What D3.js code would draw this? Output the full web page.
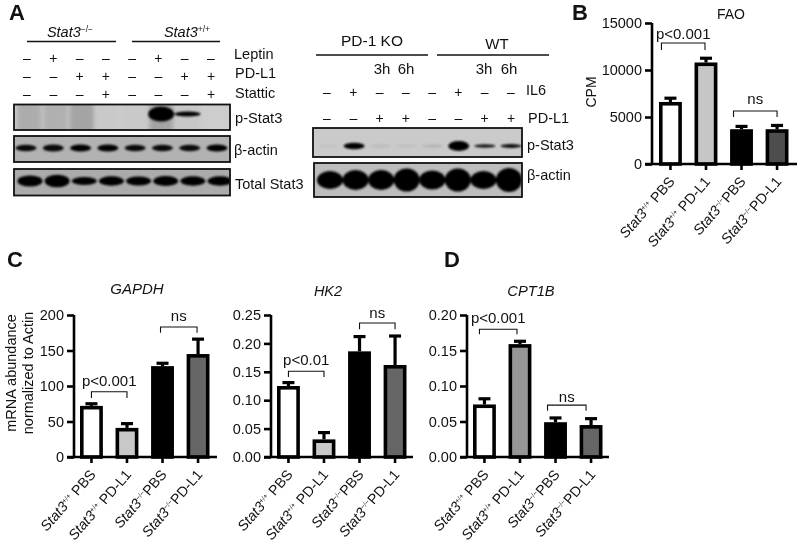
<!DOCTYPE html>
<html>
<head>
<meta charset="utf-8">
<script src="https://cdn.jsdelivr.net/npm/d3@7"></script>
<style>
  html, body { margin: 0; background: #fff; }
  svg { display: block; filter: blur(0.35px); }
  text { font-family: "Liberation Sans", Arial, sans-serif; fill: #111; }
</style>
</head>
<body>
<svg width="800" height="544"></svg>
<script>
const groups = [
  { gene: 'Stat3', sup: '+/+', tail: ' PBS' },
  { gene: 'Stat3', sup: '+/+', tail: ' PD-L1' },
  { gene: 'Stat3', sup: '\u2212/\u2212', tail: 'PBS' },
  { gene: 'Stat3', sup: '\u2212/\u2212', tail: 'PD-L1' },
];

const faoValues = [6600, 10800, 3700, 3700];
const faoErrors = [400, 450, 300, 400];
const faoTicks = [0, 5000, 10000, 15000];
const gapdhValues = [72, 41, 128, 145];
const gapdhErrors = [3, 6, 4, 21];
const gapdhTicks = [0, 50, 100, 150, 200];
const hk2Values = [0.125, 0.031, 0.186, 0.162];
const hk2Errors = [0.006, 0.012, 0.026, 0.051];
const hk2Ticks = [0, 0.05, 0.10, 0.15, 0.20, 0.25];
const cpt1bValues = [0.074, 0.159, 0.049, 0.045];
const cpt1bErrors = [0.008, 0.004, 0.006, 0.009];
const cpt1bTicks = [0, 0.05, 0.10, 0.15, 0.20];

const leptinSigns = ['-', '+', '-', '-', '-', '+', '-', '-'];
const pdl1Signs = ['-', '-', '+', '+', '-', '-', '+', '+'];
const stattic = ['-', '-', '-', '+', '-', '-', '-', '+'];
const il6Signs = ['-', '+', '-', '-', '-', '+', '-', '-'];
const pdl1Signs2 = ['-', '-', '+', '+', '-', '-', '+', '+'];

const leftSmear = [0.16, 0.14, 0.2, 0.02, 0.02, 0.2, 0.03, 0];
const leftPStat3 = [0, 0, 0, 0, 0, 1, 1, 0];
const leftPStat3Size = [0, 0, 0, 0, 0, 0.58, 0.2, 0];
const leftActin = [0.95, 0.95, 1, 1, 0.95, 0.95, 0.95, 1];
const leftActinSize = [0.55, 0.6, 0.6, 0.6, 0.55, 0.55, 0.55, 0.6];
const leftTotal = [1, 1, 1, 1, 1, 1, 1, 1];
const leftTotalSize = [0.8, 0.9, 0.58, 0.68, 0.65, 0.72, 0.68, 0.68];
const rightPStat3 = [0.03, 1, 0.07, 0.05, 0.1, 1, 0.9, 0.95];
const rightPStat3Size = [0.3, 0.55, 0.3, 0.3, 0.3, 0.85, 0.28, 0.32];
const rightActin = [1, 1, 1, 1, 1, 1, 1, 1];
const rightActinSize = [0.9, 1, 1, 1.15, 0.95, 1.15, 0.9, 1.2];

const svg = d3.select('svg');
const AXIS_WIDTH = 2.6;
const BAR_STROKE = 3.6;

function label(x, y, str, size, opts = {}) {
  return svg.append('text')
    .attr('x', x).attr('y', y)
    .attr('font-size', size)
    .attr('font-style', opts.italic ? 'italic' : null)
    .attr('font-weight', opts.bold ? 'bold' : null)
    .attr('text-anchor', opts.anchor || 'start')
    .text(str);
}

function drawBarPanel(p) {
  const g = svg.append('g');
  const x = d3.scaleBand().domain(d3.range(groups.length))
    .range([p.x0, p.x1]).paddingInner(0.356);
  const y = d3.scaleLinear().domain([0, p.max]).range([p.base, p.top]);
  const data = p.values.map((v, i) => ({ v, err: p.errors[i], i }));
  const mid = i => x(i) + x.bandwidth() / 2;

  // error bars go under the bars
  const errs = g.append('g').attr('stroke', '#000').attr('stroke-width', 3.2);
  errs.selectAll('.stem').data(data).enter().append('line')
    .attr('x1', d => mid(d.i)).attr('x2', d => mid(d.i))
    .attr('y1', d => y(d.v)).attr('y2', d => y(d.v + d.err));
  errs.selectAll('.cap').data(data).enter().append('line')
    .attr('x1', d => mid(d.i) - 6).attr('x2', d => mid(d.i) + 6)
    .attr('y1', d => y(d.v + d.err)).attr('y2', d => y(d.v + d.err));

  g.selectAll('rect').data(data).enter().append('rect')
    .attr('x', d => x(d.i) + BAR_STROKE / 2)
    .attr('width', x.bandwidth() - BAR_STROKE)
    .attr('y', d => y(d.v) + BAR_STROKE / 2)
    .attr('height', d => p.base - y(d.v) - BAR_STROKE / 2)
    .attr('fill', d => p.fills[d.i])
    .attr('stroke', '#000')
    .attr('stroke-width', BAR_STROKE);

  const yAxis = d3.axisLeft(y).tickValues(p.ticks).tickSize(7).tickPadding(3)
    .tickFormat(d3.format(p.format));
  const yG = g.append('g').attr('transform', `translate(${p.axisX},0)`).call(yAxis);
  yG.selectAll('text').attr('font-size', 14.5).attr('font-family', null);
  yG.selectAll('line, path').attr('stroke', '#000').attr('stroke-width', AXIS_WIDTH);
  yG.select('.domain').attr('d', `M0,${p.top}V${p.base}`);

  const xAxis = d3.axisBottom(x).tickSize(6).tickFormat('');
  const xG = g.append('g').attr('transform', `translate(0,${p.base})`).call(xAxis);
  xG.selectAll('line, path').attr('stroke', '#000').attr('stroke-width', AXIS_WIDTH);
  xG.select('.domain').attr('d', `M${p.axisX - 7},0H${p.axisEnd}`);

  groups.forEach((c, i) => {
    const t = g.append('text')
      .attr('transform', `translate(${mid(i) + 5},${p.base + 18}) rotate(-49)`)
      .attr('text-anchor', 'end')
      .attr('font-size', 14.2);
    t.append('tspan').attr('font-style', 'italic').text(c.gene);
    t.append('tspan').attr('dy', -5).attr('font-size', 7).text(c.sup);
    t.append('tspan').attr('dy', 5).text(c.tail);
  });

  p.brackets.forEach(b => {
    const x1 = mid(b.from) + (b.dx1 || 0), x2 = mid(b.to) + (b.dx2 || 0);
    g.append('path')
      .attr('d', `M${x1},${y(b.low)}V${y(b.high)}H${x2}V${y(b.low)}`)
      .attr('fill', 'none').attr('stroke', '#111').attr('stroke-width', 1.1);
    label((x1 + x2) / 2, y(b.labelAt), b.text, 15, { anchor: 'middle' });
  });

  label(p.titleX, p.titleY, p.title, p.titleSize, { anchor: 'middle', italic: p.italic });
}

drawBarPanel({
  title: 'FAO', titleX: 731, titleY: 19, titleSize: 14, italic: false,
  values: faoValues, errors: faoErrors, ticks: faoTicks, max: 15000, format: 'd',
  x0: 659, x1: 788.5, axisX: 652, axisEnd: 797, top: 23, base: 164,
  fills: ['#fff', '#c6c6c6', '#000', '#4d4d4d'],
  brackets: [
    { from: 0, to: 1, dx1: -9, dx2: -1, low: 12130, high: 12870, labelAt: 13300, text: 'p<0.001' },
    { from: 2, to: 3, dx1: -8, low: 5000, high: 5640, labelAt: 6350, text: 'ns' },
  ],
});
drawBarPanel({
  title: 'GAPDH', titleX: 137, titleY: 294, titleSize: 15, italic: true,
  values: gapdhValues, errors: gapdhErrors, ticks: gapdhTicks, max: 200, format: 'd',
  x0: 80, x1: 209.5, axisX: 74, axisEnd: 217, top: 315, base: 457,
  fills: ['#fff', '#c8c8c8', '#000', '#666'],
  brackets: [
    { from: 0, to: 1, low: 83, high: 92, labelAt: 100, text: 'p<0.001' },
    { from: 2, to: 3, dx1: -2, dx2: -1, low: 175, high: 183, labelAt: 191, text: 'ns' },
  ],
});
drawBarPanel({
  title: 'HK2', titleX: 328, titleY: 296, titleSize: 14.5, italic: true,
  values: hk2Values, errors: hk2Errors, ticks: hk2Ticks, max: 0.25, format: '.2f',
  x0: 277, x1: 406.5, axisX: 271, axisEnd: 413, top: 315, base: 457,
  fills: ['#fff', '#c8c8c8', '#000', '#666'],
  brackets: [
    { from: 0, to: 1, low: 0.141, high: 0.151, labelAt: 0.162, text: 'p<0.01' },
    { from: 2, to: 3, low: 0.225, high: 0.236, labelAt: 0.245, text: 'ns' },
  ],
});
drawBarPanel({
  title: 'CPT1B', titleX: 531, titleY: 296, titleSize: 14.7, italic: true,
  values: cpt1bValues, errors: cpt1bErrors, ticks: cpt1bTicks, max: 0.2, format: '.2f',
  x0: 473, x1: 602.5, axisX: 467, axisEnd: 609, top: 315, base: 457,
  fills: ['#fff', '#969696', '#000', '#666'],
  brackets: [
    { from: 0, to: 1, dx1: -5, dx2: -3, low: 0.173, high: 0.18, labelAt: 0.189, text: 'p<0.001' },
    { from: 2, to: 3, dx1: -8, dx2: -5, low: 0.065, high: 0.073, labelAt: 0.077, text: 'ns' },
  ],
});

svg.append('text')
  .attr('transform', 'translate(16,373) rotate(-90)')
  .attr('text-anchor', 'middle').attr('font-size', 14.5)
  .selectAll('tspan').data(['mRNA abundance', 'normalized to Actin']).enter().append('tspan')
  .attr('x', 0).attr('dy', (d, i) => i * 17).text(d => d);
svg.append('text')
  .attr('transform', 'translate(596,92) rotate(-90)')
  .attr('text-anchor', 'middle').attr('font-size', 14).text('CPM');

label(9, 20, 'A', 22, { bold: true });
label(572, 20, 'B', 22, { bold: true });
label(7, 267, 'C', 22, { bold: true });
label(444, 267, 'D', 22, { bold: true });

// western blots
const defs = svg.append('defs');
[['soft', 0.8], ['smear', 2.2]].forEach(([id, dev]) => {
  defs.append('filter').attr('id', id)
    .attr('x', '-30%').attr('y', '-60%').attr('width', '160%').attr('height', '220%')
    .append('feGaussianBlur').attr('stdDeviation', dev);
});

function drawBlot(b) {
  const lane = d3.scalePoint().domain(d3.range(b.density.length)).range(b.lanes);
  const clip = `blot${b.y}${b.x}`;
  defs.append('clipPath').attr('id', clip).append('rect')
    .attr('x', b.x).attr('y', b.y).attr('width', b.w).attr('height', b.h);
  const thick = d3.scaleLinear().domain([0, 1]).range([0, b.maxThick]);
  const g = svg.append('g');
  g.append('rect').attr('x', b.x).attr('y', b.y).attr('width', b.w).attr('height', b.h)
    .attr('fill', b.bg);
  const inner = g.append('g').attr('clip-path', `url(#${clip})`);
  if (b.smear) {
    inner.append('g').attr('filter', 'url(#smear)')
      .selectAll('rect').data(b.smear).enter().append('rect')
      .attr('x', (d, i) => lane(i) - 12).attr('width', 24)
      .attr('y', b.y - 4).attr('height', b.h + 8)
      .attr('fill', '#000').attr('opacity', d => d);
  }
  inner.append('g').attr('filter', 'url(#soft)')
    .selectAll('ellipse').data(b.density).enter().append('ellipse')
    .attr('cx', (d, i) => lane(i))
    .attr('cy', b.bandY)
    .attr('rx', b.bandW)
    .attr('ry', (d, i) => thick(b.size[i]))
    .attr('fill', '#000')
    .attr('opacity', d => d);
  g.append('rect').attr('x', b.x).attr('y', b.y).attr('width', b.w).attr('height', b.h)
    .attr('fill', 'none').attr('stroke', '#111').attr('stroke-width', 1.8);
}

drawBlot({ x: 14, y: 104.5, w: 216, h: 25.5, bg: '#cdcdcd', lanes: [29, 214], bandY: 114, bandW: 13,
  maxThick: 13, density: leftPStat3, size: leftPStat3Size, smear: leftSmear });
drawBlot({ x: 14, y: 136, w: 216, h: 26, bg: '#b2b2b2', lanes: [26, 217], bandY: 148, bandW: 10.5,
  maxThick: 6, density: leftActin, size: leftActinSize });
drawBlot({ x: 14, y: 169, w: 216, h: 26.5, bg: '#ababab', lanes: [30, 220], bandY: 181, bandW: 12.5,
  maxThick: 7, density: leftTotal, size: leftTotalSize });
drawBlot({ x: 313, y: 128, w: 209, h: 29, bg: '#cacaca', lanes: [328, 511], bandY: 146, bandW: 10.5,
  maxThick: 6, density: rightPStat3, size: rightPStat3Size });
drawBlot({ x: 314, y: 163, w: 208, h: 34, bg: '#bdbdbd', lanes: [330, 509], bandY: 180, bandW: 13,
  maxThick: 10, density: rightActin, size: rightActinSize });

function drawSigns(signs, x0, x1, yMid) {
  const lane = d3.scalePoint().domain(d3.range(signs.length)).range([x0, x1]);
  svg.append('g').selectAll('text').data(signs).enter().append('text')
    .attr('x', (d, i) => lane(i)).attr('y', yMid + 5)
    .attr('text-anchor', 'middle').attr('font-size', 14)
    .text(d => d === '+' ? '+' : '\u2013');
}
drawSigns(leptinSigns, 27, 211, 58);
drawSigns(pdl1Signs, 27, 211, 76);
drawSigns(stattic, 27, 211, 94);
drawSigns(il6Signs, 327, 511, 92);
drawSigns(pdl1Signs2, 327, 511, 118);

function rule(x1, x2, y) {
  svg.append('line').attr('x1', x1).attr('x2', x2).attr('y1', y).attr('y2', y)
    .attr('stroke', '#111').attr('stroke-width', 1.5);
}
rule(27, 116, 41.5);
rule(132, 220, 41.5);
rule(316, 428, 55);
rule(437, 549, 55);

[['\u2212/\u2212', 70], ['+/+', 187]].forEach(([sup, cx]) => {
  const t = svg.append('text').attr('x', cx).attr('y', 37)
    .attr('text-anchor', 'middle').attr('font-size', 14.5);
  t.append('tspan').attr('font-style', 'italic').text('Stat3');
  t.append('tspan').attr('dy', -5).attr('font-size', 8.5).text(sup);
});

label(372, 46, 'PD-1 KO', 15.5, { anchor: 'middle' });
label(497, 49, 'WT', 15, { anchor: 'middle' });
[[382, '3h'], [406, '6h'], [484, '3h'], [509, '6h']].forEach(([x, s]) => label(x, 74, s, 15, { anchor: 'middle' }));
label(526, 95, 'IL6', 14.5);
label(528, 123, 'PD-L1', 14.5);
label(527, 150, 'p-Stat3', 14.5);
label(527, 180, '\u03b2-actin', 14.5);
label(234, 59, 'Leptin', 14.5);
label(235, 78, 'PD-L1', 14.5);
label(235, 98, 'Stattic', 14.5);
label(235, 123, 'p-Stat3', 14.7);
label(234, 155, '\u03b2-actin', 14.5);
label(235, 189, 'Total Stat3', 14.5);
</script>
</body>
</html>
